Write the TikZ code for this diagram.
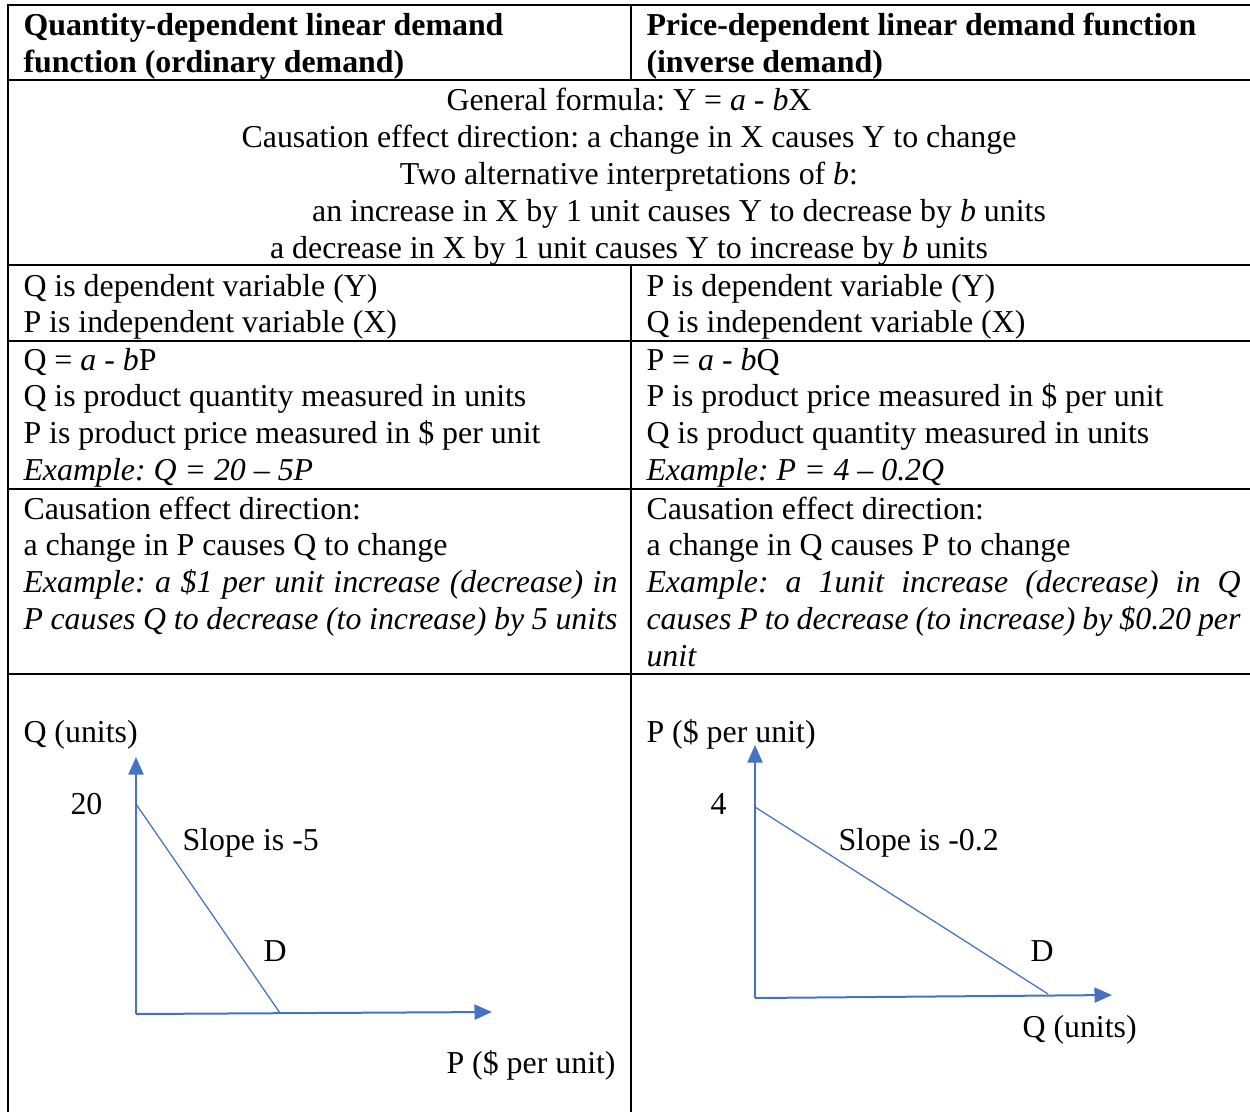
\documentclass[tikz,border=0pt]{standalone}
\usepackage{fontspec}
\setmainfont{Liberation Serif}
\usetikzlibrary{arrows.meta,positioning}
\definecolor{axisblue}{HTML}{4472C4}
\frenchspacing
\tikzset{
  cell/.style={anchor=base west, inner sep=0pt, text width=237.6pt, align=justify, font=\fontsize{12.75}{14.7}\selectfont},
  head/.style={cell, font=\fontsize{12.75}{14.7}\selectfont\bfseries},
  wide/.style={anchor=base, inner sep=0pt, text width=480pt, align=flush center, font=\fontsize{12.75}{14.7}\selectfont},
  txt/.style={anchor=base west, inner sep=0pt, font=\fontsize{12.75}{14.7}\selectfont},
  rule/.style={line width=1pt, black},
  axis/.style={-{Triangle[length=7pt,width=6pt]}, line width=0.8pt, axisblue},
  demand/.style={line width=0.5pt, axisblue}
}

\begin{document}
\begin{tikzpicture}[x=0.4pt, y=-0.4pt]
  \useasboundingbox (0,0) rectangle (1250,1112);
  % table rules
  \foreach \y in {5,80,265,341,489,674}
    \draw[rule] (8,\y) -- (1250,\y);
  \draw[rule] (8,4) -- (8,1112);
  \draw[rule] (631,5) -- (631,80);
  \draw[rule] (631,265) -- (631,1112);

  % header
  \node[head] (hl) at (23,36) {Quantity-dependent linear demand\\ function (ordinary demand)};
  \node[head] (hr) at (646,36) {Price-dependent linear demand function\\ (inverse demand)};

  % general row
  \node[wide] (gen) at (629,111) {General formula: Y = \textit{a} - \textit{b}X\\
    Causation effect direction: a change in X causes Y to change\\
    Two alternative interpretations of \textit{b}:\\
    \hspace*{40pt}an increase in X by 1 unit causes Y to decrease by \textit{b} units\\
    a decrease in X by 1 unit causes Y to increase by \textit{b} units};

  % variables
  \node[cell] (varl) at (23,296) {Q is dependent variable (Y)\\ P is independent variable (X)};
  \node[cell] (varr) at (646,296) {P is dependent variable (Y)\\ Q is independent variable (X)};

  % formulas
  \node[cell] (forml) at (23,370) {Q = \textit{a} - \textit{b}P\\
    Q is product quantity measured in units\\
    P is product price measured in \$ per unit\\
    \textit{Example: Q = 20 – 5P}};
  \node[cell] (formr) at (646,370) {P = \textit{a} - \textit{b}Q\\
    P is product price measured in \$ per unit\\
    Q is product quantity measured in units\\
    \textit{Example: P = 4 – 0.2Q}};

  % causation
  \node[cell] (causl) at (23,519) {Causation effect direction:\\
    a change in P causes Q to change\\
    \textit{Example: a \$1 per unit increase (decrease) in\linebreak P causes Q to decrease (to increase) by 5 units}};
  \node[cell] (causr) at (646,519) {Causation effect direction:\\
    a change in Q causes P to change\\
    \textit{Example: a 1unit increase (decrease) in Q\linebreak causes P to decrease (to increase) by \$0.20 per\linebreak unit}};

  % ordinary demand graph
  \coordinate (lO) at (136,1014);
  \coordinate (lY) at (136,757);
  \coordinate (lX) at (492,1012);
  \coordinate (lA) at (136,804);
  \coordinate (lB) at (280,1013);
  \draw[axis] (lO) -- (lY);
  \draw[axis] (lO) -- (lX);
  \draw[demand] (lA) -- (lB);
  \node[txt] (lyl) at (23,742) {Q (units)};
  \node[txt] (lint) at (70,814) {20};
  \node[txt] (lslope) at (182,850) {Slope is -5};
  \node[txt] (ld) at (263,961) {D};
  \node[txt] (lxl) at (446,1073) {P (\$ per unit)};

  % inverse demand graph
  \coordinate (rO) at (755,998);
  \coordinate (rY) at (755,745);
  \coordinate (rX) at (1112,995);
  \coordinate (rA) at (755,807);
  \coordinate (rB) at (1048,994);
  \draw[axis] (rO) -- (rY);
  \draw[axis] (rO) -- (rX);
  \draw[demand] (rA) -- (rB);
  \node[txt] (ryl) at (646,742) {P (\$ per unit)};
  \node[txt] (rint) at (710,814) {4};
  \node[txt] (rslope) at (838,850) {Slope is -0.2};
  \node[txt] (rd) at (1030,961) {D};
  \node[txt] (rxl) at (1022,1037) {Q (units)};
\end{tikzpicture}
\end{document}
